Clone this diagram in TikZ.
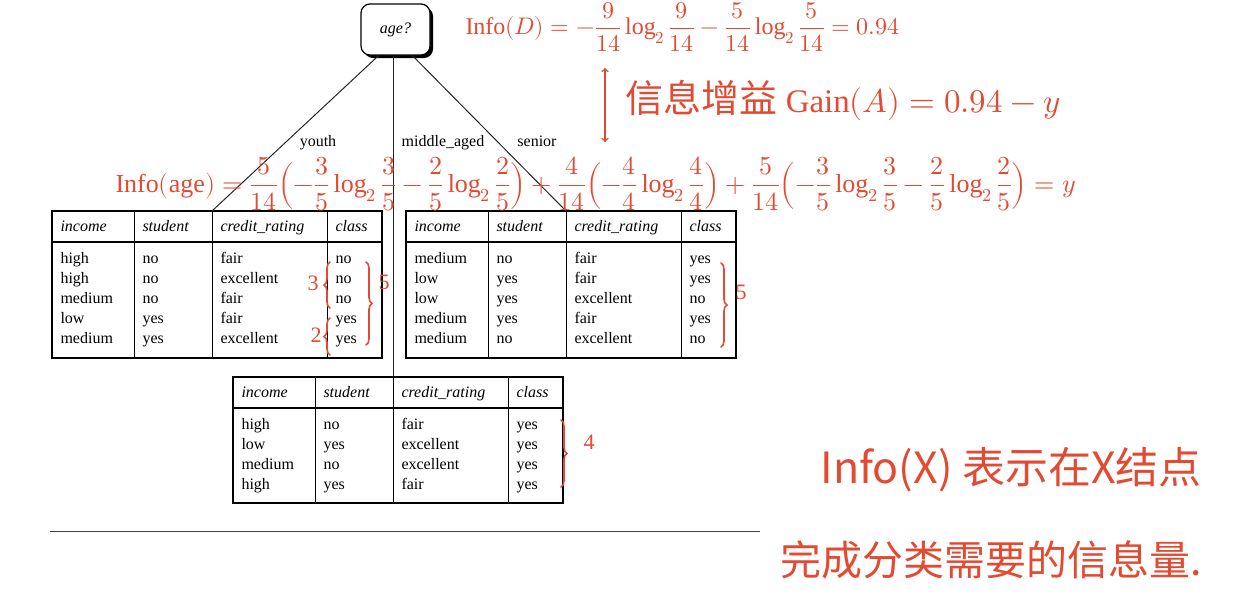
\documentclass[tikz,border=0pt]{standalone}
\usepackage{amsmath}
\usepackage{fontspec}
\usepackage{unicode-math}
\setmainfont{Liberation Serif}
\setmathfont{Latin Modern Math}
\newfontfamily\cjk{Noto Sans CJK SC}
\usepackage{xcolor}
\usepackage{tikz}
\usetikzlibrary{positioning}
\usetikzlibrary{calc}
\usetikzlibrary{shadows}
\usetikzlibrary{decorations.pathreplacing}
\definecolor{ink}{RGB}{226,74,50}

% one data table: name, top left corner, height, rows
\newcommand{\datatable}[4]{%
  \node[tabframe, minimum height=#3, anchor=north west] (#1) at (#2) {};
  \draw[tabrule] ($(#1.north west)+(0,31)$) -- ($(#1.north east)+(0,31)$);
  \foreach \dx in {82,160,275}
    \draw[tabline] ($(#1.north west)+(\dx,0)$) -- ($(#1.south west)+(\dx,0)$);
  \foreach \t/\dx [count=\i] in {income/8,student/90,credit\_rating/168,class/283}
    \node[headtxt] (#1-h\i) at ($(#1.north west)+(\dx,17)$) {\t};
  \foreach \a/\b/\c/\d [count=\r] in {#4} {
    \node[celltxt] (#1-\r-1) at ($(#1.north west)+(8,29+20*\r)$)   {\a};
    \node[celltxt] (#1-\r-2) at ($(#1.north west)+(90,29+20*\r)$)  {\b};
    \node[celltxt] (#1-\r-3) at ($(#1.north west)+(168,29+20*\r)$) {\c};
    \node[celltxt] (#1-\r-4) at ($(#1.north west)+(283,29+20*\r)$) {\d};
  }
}

\begin{document}
\begin{tikzpicture}[x=1pt,y=-1pt,line width=1pt,
  decision/.style={draw,line width=1.2pt,rounded corners=9pt,fill=white,
    minimum width=69pt,minimum height=51pt,font=\itshape\fontsize{16}{19}\selectfont,
    drop shadow={shadow xshift=3pt,shadow yshift=-3pt,opacity=1,fill=black}},
  tabframe/.style={draw,line width=2pt,outer sep=0pt,inner sep=0pt,minimum width=330pt},
  tabline/.style={line width=0.9pt},
  tabrule/.style={line width=1.6pt},
  headtxt/.style={anchor=west,inner sep=0pt,text height=11pt,text depth=4pt,
    font=\itshape\fontsize{16}{19}\selectfont},
  celltxt/.style={anchor=west,inner sep=0pt,text height=11pt,text depth=4pt,
    font=\fontsize{16}{19}\selectfont},
  branch/.style={inner sep=0pt,text height=11pt,text depth=4pt,font=\fontsize{16}{19}\selectfont},
  hand/.style={ink,line width=1.6pt,line cap=round},
  handtxt/.style={text=ink,inner sep=0pt},
  curly/.style={hand,decorate,decoration={brace,amplitude=6pt}}]
\useasboundingbox (0,0) rectangle (1254,606);

\node[decision] (age) at (395.5,29.5) {age?};

\datatable{ytab}{52,211}{147pt}{high/no/fair/no, high/no/excellent/no,
  medium/no/fair/no, low/yes/fair/yes, medium/yes/excellent/yes}
\datatable{stab}{406,211}{147pt}{medium/no/fair/yes, low/yes/fair/yes,
  low/yes/excellent/no, medium/yes/fair/yes, medium/no/excellent/no}
\datatable{mtab}{233,377}{126pt}{high/no/fair/yes, low/yes/excellent/yes,
  medium/no/excellent/yes, high/yes/fair/yes}

\coordinate (ytop) at ($(ytab.north west)+(160,0)$);
\coordinate (stop) at ($(stab.north west)+(160,0)$);
\coordinate (mtop) at ($(mtab.north west)+(160,0)$);
\draw[black!85] (age.237) -- (ytop);
\draw[black!85] (age.south -| mtop) -- (mtop);
\draw[black!85] (age.303) -- (stop);
\node[branch] (lyouth)  at (318,143) {youth};
\node[branch] (lmiddle) at (443,143) {middle\_aged};
\node[branch] (lsenior) at (537,143) {senior};

\coordinate (rulel) at (50,531);
\coordinate (ruler) at (760,531);
\draw[line width=1pt,black!75] (rulel) -- (ruler);

% handwritten notes
\node[handtxt,anchor=west,font=\fontsize{24}{28}\selectfont] (infoD) at (465,27)
  {$\mathrm{Info}(D)=-\dfrac{9}{14}\log_2\dfrac{9}{14}-\dfrac{5}{14}\log_2\dfrac{5}{14}=0.94$};
\coordinate (arrtop) at (605,68);
\coordinate (arrbot) at (605,142);
\draw[hand,<->] (arrtop) -- (arrbot);
\node[handtxt,anchor=west,font=\fontsize{33}{38}\selectfont] (gain) at (625,100)
  {{\fontsize{38}{44}\cjk 信息增益} $\mathrm{Gain}(A)=0.94-y$};
\node[handtxt,anchor=west,font=\fontsize{26}{30}\selectfont] (infoage) at (115,184)
  {$\mathrm{Info}(\mathrm{age})=\dfrac{5}{14}\Bigl(-\dfrac{3}{5}\log_2\dfrac{3}{5}-\dfrac{2}{5}\log_2\dfrac{2}{5}\Bigr)
   +\dfrac{4}{14}\Bigl(-\dfrac{4}{4}\log_2\dfrac{4}{4}\Bigr)
   +\dfrac{5}{14}\Bigl(-\dfrac{3}{5}\log_2\dfrac{3}{5}-\dfrac{2}{5}\log_2\dfrac{2}{5}\Bigr)=y$};
\node[handtxt,anchor=west,font=\fontsize{43}{48}\cjk] (note1) at (820,470) {Info(X) 表示在X结点};
\node[handtxt,anchor=west,font=\fontsize{41}{46}\cjk] (note2) at (780,560) {完成分类需要的信息量.};

% braces and counts
\coordinate (y3t) at (330,262); \coordinate (y3b) at (330,308);
\coordinate (y2t) at (330,318); \coordinate (y2b) at (330,355);
\coordinate (y5t) at (366,262); \coordinate (y5b) at (366,345);
\coordinate (s5t) at (721,263); \coordinate (s5b) at (721,347);
\coordinate (m4t) at (561,420); \coordinate (m4b) at (561,487);
\draw[curly] (y3b) -- (y3t);
\draw[curly] (y2b) -- (y2t);
\draw[curly] (y5t) -- (y5b);
\draw[curly] (s5t) -- (s5b);
\draw[curly] (m4t) -- (m4b);
\node[handtxt,font=\fontsize{22}{26}\selectfont] (n3)  at (313,283) {3};
\node[handtxt,font=\fontsize{22}{26}\selectfont] (n2)  at (316,335) {2};
\node[handtxt,font=\fontsize{22}{26}\selectfont] (n5a) at (384,282) {5};
\node[handtxt,font=\fontsize{22}{26}\selectfont] (n5b) at (741,292) {5};
\node[handtxt,font=\fontsize{22}{26}\selectfont] (n4)  at (589,442) {4};
\end{tikzpicture}
\end{document}
